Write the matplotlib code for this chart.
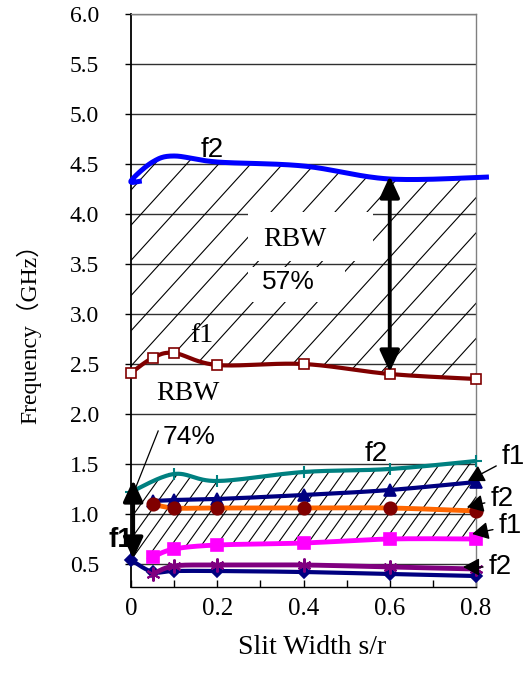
import numpy as np
import matplotlib
matplotlib.use("Agg")
import matplotlib.pyplot as plt
from matplotlib.patches import Polygon, Rectangle
from matplotlib.collections import LineCollection

# ---------------- data ----------------
# upper pair
x_up_f2 = [0.025, 0.0, 0.05, 0.1, 0.2, 0.4, 0.6, 0.83]
y_up_f2 = [4.33, 4.33, 4.52, 4.58, 4.52, 4.48, 4.35, 4.37]

x_up_f1 = [0.0, 0.05, 0.1, 0.2, 0.4, 0.6, 0.8]
y_up_f1 = [2.41, 2.56, 2.61, 2.49, 2.50, 2.40, 2.35]

# lower group
x_teal_f2 = [0.0, 0.1, 0.2, 0.4, 0.6, 0.8]
y_teal_f2 = [1.22, 1.40, 1.33, 1.42, 1.45, 1.53]

x_navy_f1 = [0.05, 0.1, 0.2, 0.4, 0.6, 0.8]
y_navy_f1 = [1.13, 1.14, 1.15, 1.19, 1.24, 1.32]

x_orange_f2 = [0.05, 0.1, 0.2, 0.4, 0.6, 0.8]
y_orange_f2 = [1.10, 1.06, 1.06, 1.06, 1.06, 1.03]

x_mag_f1 = [0.05, 0.1, 0.2, 0.4, 0.6, 0.8]
y_mag_f1 = [0.57, 0.65, 0.69, 0.71, 0.75, 0.75]

x_purple_f2 = [0.05, 0.1, 0.2, 0.4, 0.6, 0.8]
y_purple_f2 = [0.40, 0.48, 0.49, 0.49, 0.47, 0.45]

x_navy2_f1 = [0.0, 0.05, 0.1, 0.2, 0.4, 0.6, 0.8]
y_navy2_f1 = [0.54, 0.42, 0.43, 0.43, 0.42, 0.40, 0.38]

y_ticks = [0.5, 1.0, 1.5, 2.0, 2.5, 3.0, 3.5, 4.0, 4.5, 5.0, 5.5, 6.0]
x_ticks = [0.0, 0.1, 0.2, 0.3, 0.4, 0.5, 0.6, 0.7, 0.8]
x_tick_labels = ["0", "", "0.2", "", "0.4", "", "0.6", "", "0.8"]

XMIN, XMAX = 0.0, 0.8
YMIN, YMAX = 0.27, 6.0

SERIF = ["Liberation Serif", "DejaVu Serif"]
SANS = ["Liberation Sans", "DejaVu Sans"]


def smooth(xs, ys, n=30):
    P = np.column_stack([xs, ys]).astype(float)
    P = np.vstack([P[0], P, P[-1]])
    out = []
    t = np.linspace(0, 1, n, endpoint=False)[:, None]
    for i in range(1, len(P) - 2):
        p0, p1, p2, p3 = P[i - 1], P[i], P[i + 1], P[i + 2]
        seg = 0.5 * ((2 * p1) + (-p0 + p2) * t
                     + (2 * p0 - 5 * p1 + 4 * p2 - p3) * t ** 2
                     + (-p0 + 3 * p1 - 3 * p2 + p3) * t ** 3)
        out.append(seg)
    out.append(P[-2][None, :])
    return np.vstack(out)


W, H = 531, 677
fig = plt.figure(figsize=(W / 100, H / 100), dpi=100)
L, R, T, B = 131, 476, 14, 587
ax = fig.add_axes([L / W, 1 - B / H, (R - L) / W, (B - T) / H])
ax.set_xlim(XMIN, XMAX)
ax.set_ylim(YMIN, YMAX)

ppx = (R - L) / (XMAX - XMIN)
ppy = (B - T) / (YMAX - YMIN)


def hatch(poly, slope_px, spacing_px, lw=0.8):
    k = slope_px * ppx / ppy
    step = spacing_px / ppx
    span = (YMAX - YMIN) / k
    cs = np.arange(XMIN - span - step, XMAX + step, step)
    segs = [[(c, YMIN), (c + span, YMAX)] for c in cs]
    lc = LineCollection(segs, colors="black", linewidths=lw, zorder=1)
    ax.add_collection(lc, autolim=False)
    lc.set_clip_path(poly)


grid_x = np.linspace(0, 0.8, 300)

# upper hatched band
sb = smooth(x_up_f2, y_up_f2)
sb_main = sb[30:]  # skip first (hook) segment
top_u = np.interp(grid_x, sb_main[:, 0], sb_main[:, 1])
sr = smooth(x_up_f1, y_up_f1)
bot_u = np.interp(grid_x, sr[:, 0], sr[:, 1])
poly_u = Polygon(np.vstack([np.column_stack([grid_x, top_u]),
                            np.column_stack([grid_x[::-1], bot_u[::-1]])]),
                 closed=True, fc="none", ec="none")
ax.add_patch(poly_u)
hatch(poly_u, 1.1, 32)

# lower hatched band
st = smooth(x_teal_f2, y_teal_f2)
top_l = np.interp(grid_x, st[:, 0], st[:, 1])
sl = smooth([x_navy2_f1[0]] + x_mag_f1, [y_navy2_f1[0]] + y_mag_f1)
bot_l = np.interp(grid_x, sl[:, 0], sl[:, 1])
poly_l = Polygon(np.vstack([np.column_stack([grid_x, top_l]),
                            np.column_stack([grid_x[::-1], bot_l[::-1]])]),
                 closed=True, fc="none", ec="none")
ax.add_patch(poly_l)
hatch(poly_l, 1.4, 15)

# white boxes behind RBW / 57%
ax.add_patch(Rectangle((0.271, 3.53), 0.29, 0.49, fc="white", ec="none", zorder=1.5))
ax.add_patch(Rectangle((0.271, 3.12), 0.226, 0.35, fc="white", ec="none", zorder=1.5))

# grid
ax.set_yticks(y_ticks)
ax.set_yticklabels([f"{v:.1f}" for v in y_ticks])
ax.set_xticks(x_ticks)
ax.set_xticklabels(x_tick_labels)
ax.set_axisbelow(True)
ax.grid(axis="y", color="#303030", lw=1.0)
ax.grid(axis="x", visible=False)


def series(xs, ys, color, lw, marker=None, ms=7, mfc=None, mec=None, mew=1.2, z=3, lcolor=None):
    s = smooth(xs, ys)
    ax.plot(s[:, 0], s[:, 1], color=lcolor or color, lw=lw, clip_on=False, zorder=z,
            solid_capstyle="butt")
    if marker:
        ax.plot(xs, ys, ls="none", marker=marker, ms=ms, mfc=mfc or color,
                mec=mec or color, mew=mew, clip_on=False, zorder=z + 0.1)


series(x_up_f2, y_up_f2, "#0000FF", 3.6)
series(x_up_f1, y_up_f1, "#800000", 3.0, marker="s", ms=7, mfc="white", mec="#800000", mew=1.2)
series(x_teal_f2, y_teal_f2, "#008080", 3.0, marker="+", ms=8, mew=1.5)
series(x_navy_f1, y_navy_f1, "#000080", 3.0, marker="^", ms=9)
series(x_orange_f2, y_orange_f2, "#800000", 3.5, marker="o", ms=9, lcolor="#FF6600")
series(x_navy2_f1, y_navy2_f1, "#000080", 3.0, marker="D", ms=6, z=3)
series(x_purple_f2, y_purple_f2, "#800080", 3.5, marker=(6, 2, 0), ms=10, mew=1.5, z=3.2)
series(x_mag_f1, y_mag_f1, "#FF00FF", 3.5, marker="s", ms=8)

# double arrows
big = dict(arrowstyle="<|-|>,head_length=0.65,head_width=0.3", color="black",
           lw=2.8, shrinkA=0, shrinkB=0, mutation_scale=20)
ax.annotate("", xy=(0.6, 4.38), xytext=(0.6, 2.42), arrowprops=big, zorder=6,
            annotation_clip=False)
ax.annotate("", xy=(0.005, 1.34), xytext=(0.005, 0.55), arrowprops=big, zorder=6,
            annotation_clip=False)

# pointer line for 74%
ax.plot([0.005, 0.063], [1.2, 1.83], color="black", lw=0.9, zorder=5)

# side labels with arrows
small = dict(arrowstyle="-|>,head_length=0.5,head_width=0.27", color="black",
             lw=1.0, shrinkA=2, shrinkB=0, mutation_scale=20)
for txt, tip, pos in [("f1", (0.781, 1.33), (0.886, 1.57)),
                      ("f2", (0.779, 1.07), (0.860, 1.15)),
                      ("f1", (0.791, 0.80), (0.879, 0.88)),
                      ("f2", (0.770, 0.47), (0.856, 0.47))]:
    ax.annotate(txt, xy=tip, xytext=pos, ha="center", va="center", fontsize=20,
                family=SANS, arrowprops=small, annotation_clip=False, zorder=7)

# free texts
ax.text(0.188, 4.64, "f2", fontsize=20, family=SANS, ha="center", va="center", zorder=7)
ax.text(0.568, 1.60, "f2", fontsize=20, family=SANS, ha="center", va="center", zorder=7)
ax.text(0.165, 2.78, "f1", fontsize=20, family=SERIF, ha="center", va="center", zorder=7)
ax.text(0.380, 3.75, "RBW", fontsize=20, family=SERIF, ha="center", va="center", zorder=7)
ax.text(0.364, 3.32, "57%", fontsize=19, family=SANS, ha="center", va="center", zorder=7)
ax.text(0.132, 2.21, "RBW", fontsize=20, family=SERIF, ha="center", va="center", zorder=7)
ax.text(0.134, 1.77, "74%", fontsize=19, family=SANS, ha="center", va="center", zorder=7)
ax.text(-0.023, 0.74, "f1", fontsize=20, family=SANS, fontweight="bold",
        ha="center", va="center", zorder=5, clip_on=False)

# axes styling
for side in ["top", "right"]:
    ax.spines[side].set_color("#808080")
    ax.spines[side].set_linewidth(1.0)
ax.spines["left"].set_color("black")
ax.spines["left"].set_linewidth(1.3)
ax.spines["bottom"].set_color("black")
ax.spines["bottom"].set_linewidth(1.0)

ax.tick_params(axis="y", direction="out", length=4, width=1, pad=19, labelsize=17)
ax.tick_params(axis="x", direction="in", length=5, width=1, pad=8, labelsize=18)
for lab in ax.get_xticklabels() + ax.get_yticklabels():
    lab.set_family(SERIF)

ax.set_xlabel("Slit Width s/r", fontsize=20, family=SERIF)
ax.xaxis.set_label_coords((312 - L) / (R - L), -(647 - B) / (B - T))
ax.xaxis.label.set_verticalalignment("center")
ax.set_ylabel("Frequency（GHz）", fontsize=17,
              family=["Liberation Serif", "Noto Sans CJK JP", "DejaVu Sans"])
ax.yaxis.set_label_coords(-(L - 29) / (R - L), (B - 328) / (B - T))
ax.yaxis.label.set_verticalalignment("center")

fig.savefig("out.png", dpi=100)
